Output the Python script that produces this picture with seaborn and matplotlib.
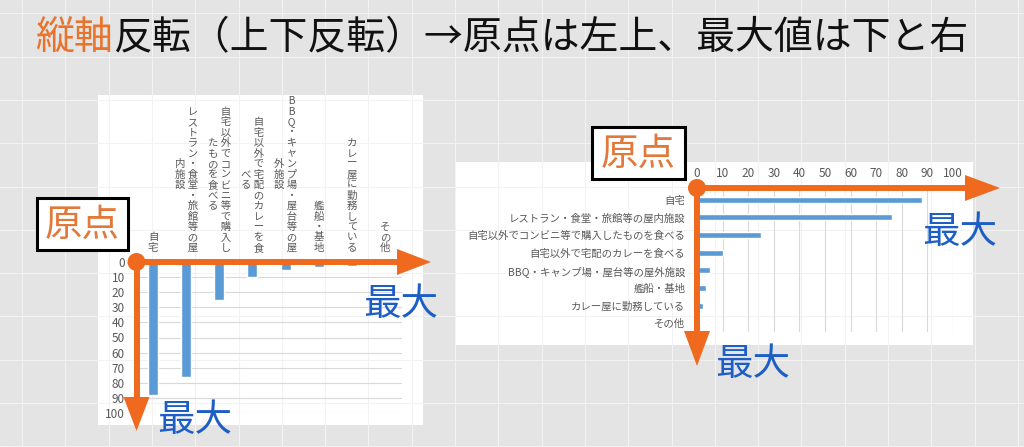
import matplotlib
matplotlib.use("Agg")
import matplotlib.pyplot as plt
import seaborn as sns
import pandas as pd
from matplotlib.patches import Rectangle, Polygon, Circle

# ---------------- data ----------------
categories = [
    "自宅",
    "レストラン・食堂・旅館等の屋内施設",
    "自宅以外でコンビニ等で購入したものを食べる",
    "自宅以外で宅配のカレーを食べる",
    "BBQ・キャンプ場・屋台等の屋外施設",
    "艦船・基地",
    "カレー屋に勤務している",
    "その他",
]
values = [88, 76, 25, 10, 5, 3.5, 2.5, 0]
value_ticks = [0, 10, 20, 30, 40, 50, 60, 70, 80, 90, 100]
# vertical (stacked) tick labels of the left chart, one list of columns per category
vertical_label_columns = [
    ["自宅"],
    ["レストラン・食堂・旅館等の屋", "内施設"],
    ["自宅以外でコンビニ等で購入し", "たものを食べる"],
    ["自宅以外で宅配のカレーを食", "べる"],
    ["BBQ・キャンプ場・屋台等の屋", "外施設"],
    ["艦船・基地"],
    ["カレー屋に勤務している"],
    ["その他"],
]
title_highlight = "縦軸"
title_rest = "反転（上下反転）→原点は左上、最大値は下と右"
origin_label = "原点"
max_label = "最大"

# ---------------- style ----------------
sns.set_theme(style="white")
plt.rcParams["font.family"] = ["Noto Sans CJK JP", "DejaVu Sans"]

W, H = 1024, 447
ORANGE = "#ef6a1e"
ORANGE_TXT = "#e2783a"
BLUE_TXT = "#1c5ec6"
BAR = "#5b9bd5"
GRID = "#d9d9d9"
LBL = "#595959"


def rect(x0, y0, x1, y1):
    return [x0 / W, 1 - y1 / H, (x1 - x0) / W, (y1 - y0) / H]


def stack(cols):
    main = list(cols[0])
    n = len(main)
    rows = []
    extra = [list(c) for c in cols[1:]]
    for i in range(n):
        row = ""
        for c in reversed(extra):
            off = (n - len(c)) // 2
            j = i - off
            row += (c[j] if 0 <= j < len(c) else "\u3000") + " "
        row += main[i]
        rows.append(row)
    return "\n".join(rows)


fig = plt.figure(figsize=(W / 100, H / 100), dpi=100)
fig.patch.set_facecolor("#e4e4e4")

# background slide grid + white chart panels
bg = fig.add_axes([0, 0, 1, 1], zorder=0)
bg.set_xlim(0, W)
bg.set_ylim(H, 0)
bg.axis("off")
k = 0
while 22 + 43.3 * k < W:
    bg.axvline(22 + 43.3 * k, color="#f2f2f2", lw=0.8)
    k += 1
k = 0
while 13.4 + 43.3 * k < H:
    bg.axhline(13.4 + 43.3 * k, color="#f2f2f2", lw=0.8)
    k += 1
bg.add_patch(Rectangle((98, 95), 325, 330, facecolor="white", edgecolor="none"))
bg.add_patch(Rectangle((455, 162), 518, 183, facecolor="white", edgecolor="none"))

df = pd.DataFrame({"category": categories, "value": values})

# ---------------- left chart (vertical bars, inverted y) ----------------
axL = fig.add_axes(rect(136.5, 262, 401.5, 413), zorder=1)
axL.set_facecolor("none")
sns.barplot(data=df, x="category", y="value", ax=axL, color=BAR,
            saturation=1, width=0.3)
axL.set_xlim(-0.5, len(categories) - 0.5)
axL.set_ylim(100, 0)
axL.set_yticks(value_ticks)
axL.set_yticklabels([str(v) for v in value_ticks])
axL.yaxis.grid(True, color=GRID, lw=0.8)
axL.set_axisbelow(True)
axL.xaxis.tick_top()
axL.set_xticks(range(len(categories)))
axL.set_xticklabels([stack(c) for c in vertical_label_columns])
for lab in axL.get_xticklabels():
    lab.set_linespacing(1.06)
    lab.set_multialignment("center")
    lab.set_verticalalignment("bottom")
axL.tick_params(axis="x", length=0, pad=6.5, labelsize=7.5, labelcolor=LBL)
axL.tick_params(axis="y", length=0, pad=8.5, labelsize=8.5, labelcolor=LBL)
axL.set_xlabel("")
axL.set_ylabel("")
for s in axL.spines.values():
    s.set_visible(False)

# ---------------- right chart (horizontal bars) ----------------
axR = fig.add_axes(rect(697, 191, 953, 332), zorder=1)
axR.set_facecolor("none")
sns.barplot(data=df, x="value", y="category", orient="h", ax=axR, color=BAR,
            saturation=1, width=0.34)
axR.set_xlim(0, 100)
axR.set_ylim(len(categories) - 0.5, -0.5)
axR.set_xticks(value_ticks)
axR.set_xticklabels([str(v) for v in value_ticks])
axR.xaxis.grid(True, color=GRID, lw=0.8)
axR.set_axisbelow(True)
axR.xaxis.tick_top()
axR.tick_params(axis="x", length=0, pad=8, labelsize=8.5, labelcolor=LBL)
axR.tick_params(axis="y", length=0, pad=8.5, labelsize=7.5, labelcolor=LBL)
axR.set_xlabel("")
axR.set_ylabel("")
for s in axR.spines.values():
    s.set_visible(False)

# ---------------- overlay: arrows, origin markers, callouts ----------------
ov = fig.add_axes([0, 0, 1, 1], zorder=5)
ov.set_xlim(0, W)
ov.set_ylim(H, 0)
ov.axis("off")
ov.set_facecolor("none")
LW = 4.3


def arrows(ox, oy, hx_end, vy_end, half=13, head=34):
    ov.plot([ox, hx_end - head + 2], [oy, oy], color=ORANGE, lw=LW,
            solid_capstyle="butt")
    ov.plot([ox, ox], [oy, vy_end - head + 2], color=ORANGE, lw=LW,
            solid_capstyle="butt")
    ov.add_patch(Polygon([(hx_end - head, oy - half), (hx_end - head, oy + half),
                          (hx_end, oy)], closed=True, color=ORANGE, lw=0))
    ov.add_patch(Polygon([(ox - half, vy_end - head), (ox + half, vy_end - head),
                          (ox, vy_end)], closed=True, color=ORANGE, lw=0))
    ov.add_patch(Circle((ox, oy), 9, color=ORANGE, lw=0))


arrows(136.5, 262, 431, 431)
arrows(697, 188, 1000, 366, half=13, head=35)


def callout(x, y, w, h):
    ov.add_patch(Rectangle((x, y), w, h, facecolor="white", edgecolor="black",
                           lw=2.2))
    ov.text(x + w / 2, y + h / 2 + 1, origin_label, color=ORANGE_TXT,
            fontsize=27, ha="center", va="center")


callout(37, 198, 91, 52)
callout(592, 127, 93, 52)

for (cx, cy) in [(195, 420), (401, 305), (960, 232), (753, 365)]:
    ov.text(cx, cy, max_label, color=BLUE_TXT, fontsize=27,
            ha="center", va="center")

# ---------------- title ----------------
t1 = fig.text(35 / W, 1 - 38 / H, title_highlight, color="#e8742c",
              fontsize=28, ha="left", va="center")
fig.canvas.draw()
bb = t1.get_window_extent()
fig.text(bb.x1 / W, 1 - 38 / H, title_rest, color="#111111",
         fontsize=28, ha="left", va="center")

fig.savefig("out.png", dpi=100, facecolor=fig.get_facecolor())
